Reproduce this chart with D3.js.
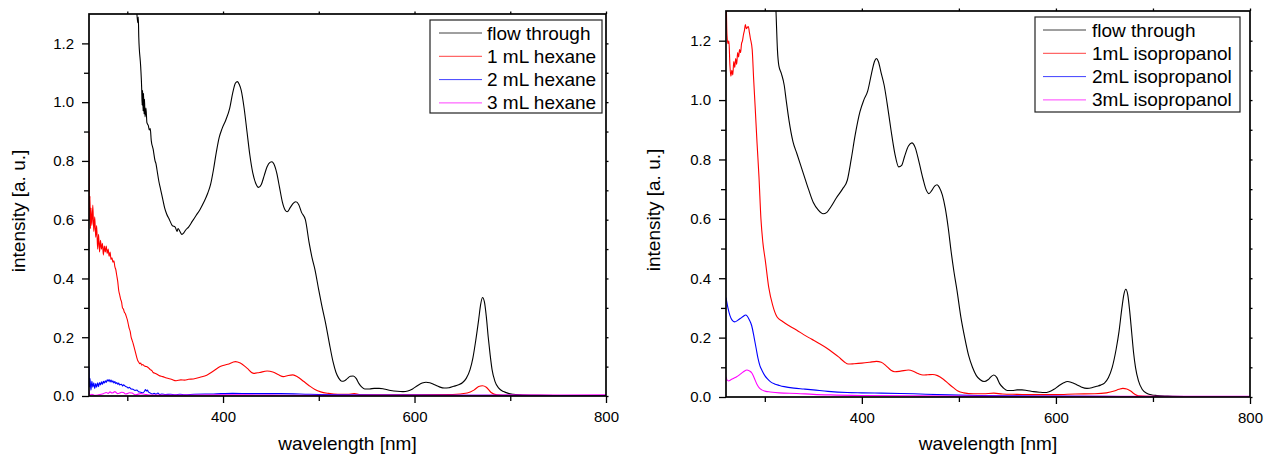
<!DOCTYPE html>
<html><head><meta charset="utf-8">
<script src="https://cdn.jsdelivr.net/npm/d3@7"></script>
<style>
html,body{margin:0;padding:0;background:#fff;}
svg{display:block;}
text{font-family:Arial,"Liberation Sans",sans-serif;fill:#000;}
</style></head><body>
<svg id="chart" width="1264" height="456"></svg>
<script>
// ---------- DATA ----------
const xDomain = [260, 800];
const yDomain = [0, 1.3];
const xTicksMajor = [400, 600, 800];
const xTicksMinor = [300, 500, 700];
const yTicksMajor = [0, 0.2, 0.4, 0.6, 0.8, 1.0, 1.2];
const yTicksMinor = [0.1, 0.3, 0.5, 0.7, 0.9, 1.1];
const xTitle = "wavelength [nm]";
const yTitle = "intensity [a. u.]";
const seriesColors = ["#000000", "#ff0000", "#0000ff", "#ff00ff"];
const hexaneLabels = ["flow through", "1 mL hexane", "2 mL hexane", "3 mL hexane"];
const isoLabels = ["flow through", "1mL isopropanol", "2mL isopropanol", "3mL isopropanol"];

// Left panel: hexane
const hexFlow = [[305,1.5],[310,1.30],[311,1.27],[311.5,1.29],[312,1.22],[314,1.12],[315,1.05],[315.5,0.99],[316,1.04],[316.5,0.97],[317,1.03],[317.5,0.96],[318,1.01],[318.5,0.95],[319.5,0.98],[320.5,0.93],[322,0.92],[323,0.905],[324,0.91],[325,0.87],[327,0.84],[329,0.80],[330,0.79],[331,0.77],[333,0.73],[335,0.70],[337,0.67],[339,0.64],[341,0.62],[344,0.60],[347,0.58],[350,0.575],[352,0.56],[353,0.57],[355,0.56],[357,0.55],[359,0.555],[361,0.565],[364,0.575],[368,0.595],[372,0.615],[376,0.635],[380,0.66],[384,0.69],[387,0.72],[390,0.77],[393,0.83],[396,0.88],[399,0.91],[403,0.94],[407,0.98],[410,1.03],[413,1.065],[415,1.07],[417,1.06],[419,1.04],[422,0.98],[425,0.90],[428,0.82],[431,0.76],[434,0.725],[437,0.71],[440,0.72],[443,0.75],[446,0.78],[449,0.795],[451,0.797],[453,0.79],[456,0.76],[459,0.71],[462,0.66],[465,0.632],[467,0.627],[470,0.64],[473,0.655],[476,0.661],[479,0.652],[482,0.625],[486,0.60],[490,0.52],[493,0.47],[496,0.43],[500,0.36],[503,0.31],[507,0.25],[511,0.18],[515,0.115],[518,0.08],[521,0.06],[524,0.05],[527,0.052],[530,0.06],[533,0.067],[536,0.068],[539,0.06],[542,0.042],[545,0.03],[548,0.024],[553,0.024],[558,0.026],[563,0.026],[568,0.024],[575,0.019],[582,0.016],[588,0.015],[593,0.017],[598,0.024],[603,0.035],[608,0.044],[612,0.047],[616,0.045],[621,0.038],[626,0.031],[631,0.027],[636,0.028],[641,0.033],[646,0.038],[650,0.045],[654,0.06],[658,0.09],[661,0.13],[664,0.19],[667,0.26],[669,0.31],[671,0.335],[673,0.32],[675,0.27],[677,0.2],[679,0.14],[681,0.09],[684,0.05],[688,0.027],[693,0.015],[698,0.009],[703,0.006],[710,0.004],[730,0.002],[760,0.001],[800,0.001]];
const hex1 = [[260,0.90],[260.5,0.60],[261,0.68],[261.5,0.57],[262,0.64],[263,0.58],[264,0.65],[265,0.56],[266,0.61],[267,0.54],[268,0.58],[269,0.50],[270,0.55],[271,0.49],[272,0.53],[273,0.50],[274,0.52],[275,0.48],[276,0.51],[277,0.49],[278,0.51],[279,0.485],[280,0.50],[281,0.475],[282,0.49],[283,0.465],[284,0.47],[285,0.455],[286,0.46],[287,0.44],[288,0.43],[289,0.41],[290,0.39],[291,0.36],[292,0.345],[293,0.33],[294,0.32],[295,0.30],[296,0.295],[297,0.285],[298,0.28],[299,0.27],[300,0.26],[301,0.245],[302,0.23],[303,0.22],[304,0.2],[305,0.19],[306,0.18],[308,0.155],[310,0.13],[311,0.12],[312,0.115],[313,0.11],[314,0.112],[315,0.105],[316,0.107],[318,0.102],[320,0.10],[322,0.096],[324,0.09],[326,0.085],[327,0.08],[330,0.076],[333,0.07],[337,0.066],[341,0.061],[346,0.057],[351,0.052],[356,0.055],[360,0.054],[364,0.057],[369,0.058],[376,0.064],[383,0.071],[390,0.085],[397,0.10],[405,0.108],[413,0.117],[418,0.112],[425,0.095],[432,0.077],[438,0.08],[446,0.085],[452,0.082],[458,0.072],[463,0.066],[468,0.07],[473,0.072],[478,0.065],[484,0.05],[490,0.035],[496,0.022],[502,0.014],[510,0.009],[520,0.006],[530,0.006],[537,0.008],[545,0.004],[560,0.004],[600,0.004],[640,0.005],[655,0.01],[662,0.02],[667,0.032],[671,0.035],[675,0.03],[680,0.012],[686,0.004],[700,0.002],[800,0.001]];
const hex2 = [[260,0.10],[260.5,0.03],[261,0.06],[262,0.02],[263,0.05],[264,0.03],[265,0.045],[266,0.025],[267,0.042],[268,0.03],[269,0.045],[270,0.032],[271,0.046],[272,0.038],[273,0.048],[274,0.04],[275,0.05],[276,0.044],[277,0.052],[278,0.046],[279,0.055],[280,0.05],[281,0.056],[282,0.048],[283,0.054],[284,0.047],[285,0.052],[286,0.044],[287,0.049],[288,0.042],[289,0.046],[290,0.04],[291,0.044],[292,0.038],[294,0.04],[295,0.034],[296,0.038],[298,0.033],[300,0.03],[301,0.027],[302,0.03],[304,0.024],[306,0.023],[308,0.019],[310,0.02],[312,0.014],[314,0.013],[316,0.011],[318,0.016],[319,0.022],[320,0.017],[321,0.02],[322,0.014],[324,0.01],[326,0.007],[328,0.009],[330,0.006],[332,0.01],[334,0.005],[336,0.007],[340,0.005],[345,0.006],[350,0.004],[355,0.006],[360,0.004],[370,0.006],[390,0.007],[410,0.009],[430,0.008],[460,0.008],[490,0.006],[520,0.004],[560,0.003],[600,0.003],[700,0.002],[800,0.001]];
const hex3 = [[260,0.02],[261,0.003],[263,0.006],[266,0.002],[270,0.004],[275,0.008],[278,0.012],[280,0.009],[282,0.014],[284,0.01],[285,0.011],[287,0.015],[288,0.013],[290,0.008],[292,0.01],[294,0.013],[296,0.012],[298,0.007],[300,0.008],[302,0.011],[305,0.01],[308,0.004],[310,0.005],[314,0.008],[318,0.006],[325,0.003],[340,0.003],[400,0.004],[450,0.003],[500,0.002],[600,0.002],[700,0.003],[800,0.004]];

// Right panel: isopropanol
const isoFlow = [[305,1.6],[311.5,1.30],[313,1.17],[314.5,1.115],[317,1.09],[320,1.05],[322,1.0],[325,0.93],[329,0.86],[333,0.82],[337,0.78],[340,0.75],[345,0.70],[350,0.655],[355,0.63],[360,0.617],[364,0.622],[368,0.64],[374,0.672],[380,0.70],[385,0.73],[389,0.80],[393,0.88],[398,0.96],[402,1.0],[406,1.03],[410,1.09],[413,1.13],[415,1.14],[417,1.13],[420,1.09],[423,1.05],[426,0.99],[430,0.90],[434,0.82],[438,0.775],[441,0.78],[444,0.81],[448,0.845],[451.5,0.856],[455,0.84],[459,0.79],[463,0.735],[466,0.70],[469,0.685],[472,0.695],[475,0.71],[477.5,0.715],[480,0.705],[483,0.68],[486,0.635],[489,0.57],[492,0.49],[495,0.42],[498,0.36],[502,0.27],[506,0.20],[510,0.14],[514,0.10],[518,0.072],[522,0.058],[526,0.052],[530,0.058],[533,0.068],[536,0.074],[539,0.066],[542,0.045],[546,0.03],[550,0.022],[555,0.022],[560,0.024],[565,0.024],[570,0.022],[577,0.018],[583,0.016],[588,0.015],[593,0.018],[598,0.026],[603,0.038],[608,0.048],[612,0.052],[616,0.049],[621,0.042],[626,0.034],[632,0.029],[637,0.031],[642,0.036],[646,0.04],[650,0.047],[654,0.065],[658,0.1],[662,0.16],[665,0.22],[668,0.3],[670,0.345],[672,0.363],[674,0.345],[676,0.29],[678,0.22],[680,0.15],[682,0.1],[685,0.055],[689,0.025],[694,0.012],[699,0.007],[704,0.005],[715,0.003],[740,0.001],[800,0.0]];
const iso1 = [[260,1.40],[261,1.22],[262,1.19],[263,1.20],[264,1.12],[265,1.08],[266,1.10],[267,1.085],[268,1.13],[269,1.11],[270,1.14],[271,1.12],[272,1.16],[273,1.145],[274,1.17],[275,1.16],[276,1.19],[277,1.20],[278,1.22],[279,1.235],[280,1.254],[281,1.24],[282,1.245],[283,1.248],[284,1.23],[285,1.21],[287,1.17],[288.5,1.07],[290,0.98],[292,0.855],[294,0.74],[296,0.60],[298,0.52],[300.5,0.46],[304,0.37],[308,0.31],[312.5,0.27],[318,0.255],[325,0.24],[333,0.225],[340,0.21],[348,0.195],[356,0.18],[364,0.164],[370,0.15],[376,0.135],[382,0.118],[386,0.111],[392,0.112],[400,0.114],[408,0.117],[415,0.12],[420,0.117],[425,0.105],[430,0.09],[434,0.085],[440,0.087],[448,0.091],[453,0.087],[458,0.079],[463,0.074],[468,0.075],[473,0.076],[478,0.072],[484,0.06],[490,0.043],[495,0.03],[499,0.02],[505,0.014],[515,0.011],[525,0.011],[536,0.013],[545,0.01],[560,0.009],[580,0.008],[600,0.008],[620,0.01],[640,0.011],[652,0.014],[660,0.02],[665,0.026],[669,0.029],[673,0.027],[677,0.02],[681,0.01],[685,0.004],[695,0.002],[720,0.001],[800,0.001]];
const iso2 = [[260,0.335],[262,0.30],[264,0.275],[266.5,0.258],[269,0.253],[272,0.258],[275,0.265],[278,0.272],[280,0.276],[282,0.272],[284,0.26],[286.5,0.24],[289,0.2],[291,0.165],[293,0.13],[295,0.105],[297,0.09],[300,0.072],[303,0.06],[306,0.051],[310,0.044],[315,0.039],[320,0.035],[330,0.03],[340,0.027],[350,0.024],[365,0.019],[385,0.015],[400,0.014],[420,0.013],[440,0.012],[460,0.01],[490,0.007],[520,0.005],[560,0.004],[600,0.003],[650,0.002],[700,0.001],[800,0.001]];
const iso3 = [[260,0.068],[261,0.058],[262.7,0.054],[265,0.058],[268,0.063],[271,0.068],[274.7,0.077],[278,0.085],[281.6,0.091],[284,0.088],[286.8,0.08],[289,0.065],[292,0.042],[294.5,0.03],[297,0.024],[301,0.019],[305.6,0.017],[315,0.014],[333,0.012],[350,0.009],[367.5,0.007],[400,0.005],[450,0.004],[500,0.003],[600,0.002],[700,0.002],[800,0.002]];

// ---------- DRAW ----------
const svg = d3.select("#chart");
const FONT = 'Arial, "Liberation Sans", sans-serif';

function drawPanel(p) {
  const x = d3.scaleLinear().domain(xDomain).range([p.left, p.right]);
  const y = d3.scaleLinear().domain(yDomain).range([p.bottom, p.top]);
  const clipId = "clip-" + p.id;
  svg.append("clipPath").attr("id", clipId).append("rect")
    .attr("x", p.left).attr("y", p.top)
    .attr("width", p.right - p.left).attr("height", p.bottom - p.top);

  const line = d3.line().x(d => x(d[0])).y(d => y(d[1])).curve(d3.curveMonotoneX);
  const lg = svg.append("g").attr("clip-path", `url(#${clipId})`);
  p.series.forEach((s, i) => {
    lg.append("path").attr("d", line(s)).attr("fill", "none")
      .attr("stroke", seriesColors[i]).attr("stroke-width", 1.1)
      .attr("stroke-linejoin", "round");
  });

  const styleAxis = g => {
    g.select(".domain").remove();
    g.selectAll(".tick line").attr("stroke", "#000").attr("stroke-width", 1.3);
    g.selectAll("text").attr("font-family", FONT).attr("font-size", 15).attr("fill", "#000");
  };

  svg.append("g").attr("transform", `translate(0,${p.bottom})`)
    .call(d3.axisBottom(x).tickValues(xTicksMajor).tickSize(7).tickPadding(8).tickSizeOuter(0).tickFormat(d3.format("d")))
    .call(styleAxis);
  svg.append("g").attr("transform", `translate(0,${p.bottom})`)
    .call(d3.axisBottom(x).tickValues(xTicksMinor).tickSize(5).tickSizeOuter(0).tickFormat(""))
    .call(styleAxis);
  svg.append("g").attr("transform", `translate(${p.left},0)`)
    .call(d3.axisLeft(y).tickValues(yTicksMajor).tickSize(7).tickPadding(8).tickSizeOuter(0).tickFormat(d3.format(".1f")))
    .call(styleAxis);
  svg.append("g").attr("transform", `translate(${p.left},0)`)
    .call(d3.axisLeft(y).tickValues(yTicksMinor).tickSize(5).tickSizeOuter(0).tickFormat(""))
    .call(styleAxis);
  svg.append("g").attr("transform", `translate(0,${p.top})`)
    .call(d3.axisTop(x).tickValues(xTicksMajor.concat(xTicksMinor)).tickSize(2.5).tickSizeOuter(0).tickFormat(""))
    .call(styleAxis);
  svg.append("g").attr("transform", `translate(${p.right},0)`)
    .call(d3.axisRight(y).tickValues(yTicksMajor.concat(yTicksMinor)).tickSize(2.5).tickSizeOuter(0).tickFormat(""))
    .call(styleAxis);

  svg.append("rect").attr("x", p.left).attr("y", p.top)
    .attr("width", p.right - p.left).attr("height", p.bottom - p.top)
    .attr("fill", "none").attr("stroke", "#000").attr("stroke-width", 1.7);

  svg.append("text").attr("x", (p.left + p.right) / 2).attr("y", 450)
    .attr("text-anchor", "middle").attr("font-size", 19).attr("font-family", FONT).text(xTitle);
  svg.append("text").attr("transform", `translate(${p.yTitleX},${p.yTitleY}) rotate(-90)`)
    .attr("text-anchor", "middle").attr("font-size", 19).attr("font-family", FONT).text(yTitle);

  const L = p.legend;
  svg.append("rect").attr("x", L.x0).attr("y", L.y0).attr("width", L.x1 - L.x0).attr("height", L.y1 - L.y0)
    .attr("fill", "#fff").attr("stroke", "#222").attr("stroke-width", 1.2);
  p.labels.forEach((lab, i) => {
    const ly = L.rowY + i * L.rowStep;
    svg.append("line").attr("x1", L.lineX0).attr("x2", L.lineX1).attr("y1", ly).attr("y2", ly)
      .attr("stroke", seriesColors[i]).attr("stroke-width", 1).attr("stroke-opacity", 0.75);
    svg.append("text").attr("x", L.textX).attr("y", ly + 6.5)
      .attr("font-size", 19).attr("font-family", FONT).text(lab);
  });
}

drawPanel({
  id: "hex", left: 89, right: 606, top: 14, bottom: 396,
  series: [hexFlow, hex1, hex2, hex3], labels: hexaneLabels,
  yTitleX: 25, yTitleY: 211,
  legend: { x0: 430, x1: 602, y0: 20, y1: 113, lineX0: 439, lineX1: 482, textX: 487, rowY: 33, rowStep: 23.3 }
});
drawPanel({
  id: "iso", left: 726, right: 1250, top: 11, bottom: 397,
  series: [isoFlow, iso1, iso2, iso3], labels: isoLabels,
  yTitleX: 660, yTitleY: 210,
  legend: { x0: 1035, x1: 1240, y0: 17, y1: 112, lineX0: 1043, lineX1: 1086, textX: 1092, rowY: 30, rowStep: 23.3 }
});
</script>
</body></html>
